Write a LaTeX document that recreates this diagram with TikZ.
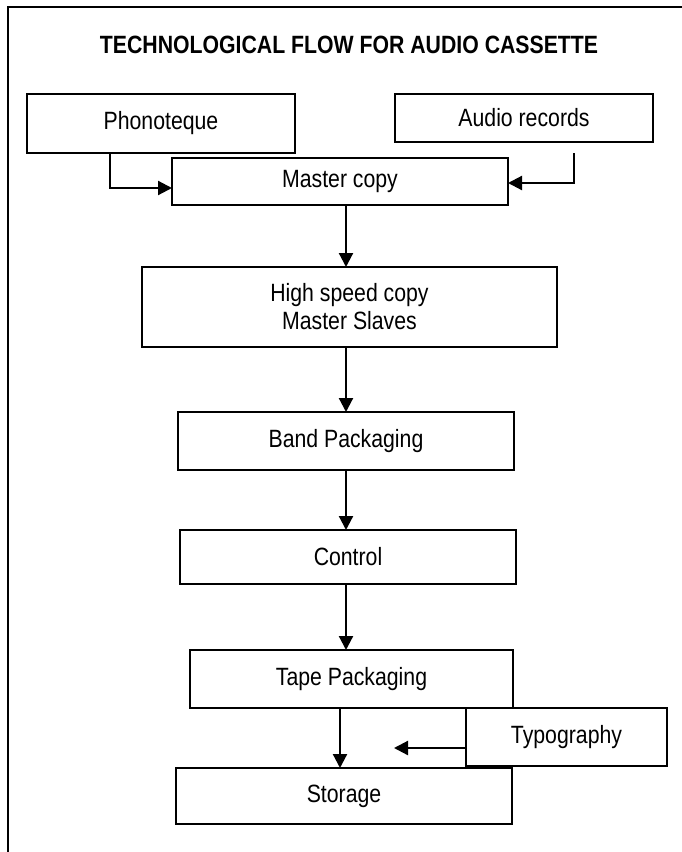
\documentclass[tikz,border=0pt]{standalone}
\usepackage{fontspec}
\setmainfont[FakeStretch=0.85]{Liberation Sans}
\usetikzlibrary{arrows.meta}
\begin{document}
\begin{tikzpicture}[x=1pt,y=-1pt,
  box/.style={draw,line width=1.8pt,rectangle,inner sep=2pt,outer sep=0pt,align=center,
    font=\fontsize{25}{28}\selectfont},
  arr/.style={line width=2.2pt,-{Triangle[length=14pt,width=14pt]}},
  frame/.style={line width=1.4pt}]
\useasboundingbox (0,0) rectangle (682,852);
% frame (open at right and bottom)
\coordinate (fbl) at (8,852);
\coordinate (ftl) at (8,7);
\coordinate (ftr) at (682,7);
\draw[frame] (fbl) -- (ftl) -- (ftr);
% title
\node[font=\fontsize{25}{28}\selectfont\bfseries] (title) at (349,45) {TECHNOLOGICAL FLOW FOR AUDIO CASSETTE};
% boxes
\node[box,minimum width=268pt,minimum height=59pt] (phon) at (161,123.5) {Phonoteque};
\node[box,minimum width=258pt,minimum height=48pt] (audio) at (524,118) {Audio records};
\node[box,minimum width=336pt,minimum height=47pt] (master) at (340,181.5) {Master copy};
\node[box,minimum width=415pt,minimum height=80pt] (high) at (349.5,307) {High speed copy\\Master Slaves};
\node[box,minimum width=336pt,minimum height=58pt] (band) at (346,441) {Band Packaging};
\node[box,minimum width=336pt,minimum height=54pt] (control) at (348,557) {Control};
\node[box,minimum width=323pt,minimum height=58pt] (tape) at (351.5,679) {Tape Packaging};
\node[box,minimum width=201pt,minimum height=58pt] (typo) at (566.5,737) {Typography};
\node[box,minimum width=336pt,minimum height=56pt] (storage) at (344,796) {Storage};
% connector helpers
\coordinate (c1) at (110,188);
\coordinate (c2) at (574,153);
\coordinate (c3) at (574,183);
\coordinate (c4) at (394,748);
% connectors
\draw[arr] (c1 |- phon.south) |- (master.west |- c1);
\draw[arr] (c2) |- (master.east |- c3);
\draw[arr] ([xshift=6pt]master.south) -- ([xshift=6pt]master.south |- high.north);
\draw[arr] ([xshift=-3.5pt]high.south) -- ([xshift=-3.5pt]high.south |- band.north);
\draw[arr] (band.south) -- (band.south |- control.north);
\draw[arr] ([xshift=-2pt]control.south) -- ([xshift=-2pt]control.south |- tape.north);
\draw[arr] ([xshift=-11.5pt]tape.south) -- ([xshift=-11.5pt]tape.south |- storage.north);
\draw[arr] (typo.west |- c4) -- (c4);
\end{tikzpicture}
\end{document}
